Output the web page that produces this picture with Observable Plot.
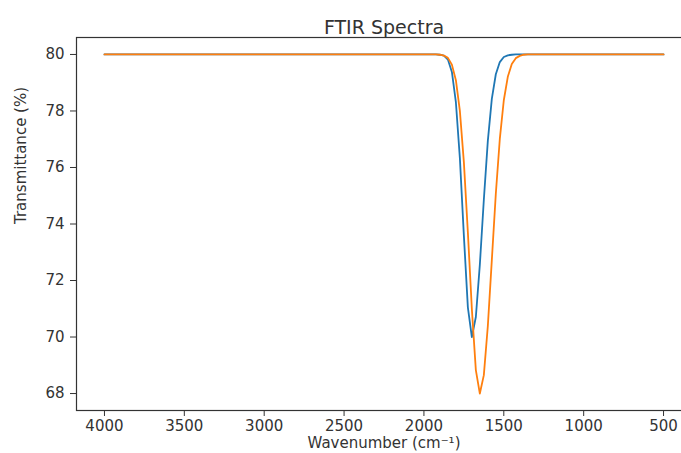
<!DOCTYPE html>
<html>
<head>
<meta charset="utf-8">
<script src="https://cdn.jsdelivr.net/npm/d3@7"></script>
<script src="https://cdn.jsdelivr.net/npm/@observablehq/plot@0.6"></script>
<style>
  html, body { margin: 0; padding: 0; background: #fff; overflow: hidden; }
  #chart { width: 681px; height: 453px; overflow: hidden; }
</style>
</head>
<body>
<div id="chart"></div>
<script>
// Wavenumber sample points (cm^-1)
const wavenumbers = [4000, 1925, 1900, 1875, 1850, 1825, 1800, 1775, 1750, 1725, 1700, 1675, 1650, 1625, 1600, 1575, 1550, 1525, 1500, 1475, 1450, 1425, 1400, 1375, 1350, 500];
// Transmittance (%) for the two spectra
const seriesA = [80, 80.00, 79.99, 79.96, 79.82, 79.38, 78.31, 76.33, 73.59, 71.05, 70.00, 70.71, 72.56, 74.86, 76.94, 78.43, 79.30, 79.73, 79.91, 79.97, 79.99, 80, 80, 80, 80, 80];
const seriesB = [80, 80.00, 79.99, 79.96, 79.88, 79.64, 79.09, 78.00, 76.19, 73.71, 70.99, 68.83, 68.00, 68.65, 70.39, 72.72, 75.07, 77.01, 78.38, 79.21, 79.66, 79.87, 79.95, 79.99, 80, 80];
const seriesNames = ["Spectrum 1", "Spectrum 2"];
const xTicks = [4000, 3500, 3000, 2500, 2000, 1500, 1000, 500];
const yTicks = [68, 70, 72, 74, 76, 78, 80];
const titleText = "FTIR Spectra";
const xLabel = "Wavenumber (cm\u207B\u00B9)";
const yLabel = "Transmittance (%)";

const rows = [
  ...wavenumbers.map((w, i) => ({w, t: seriesA[i], s: seriesNames[0]})),
  ...wavenumbers.map((w, i) => ({w, t: seriesB[i], s: seriesNames[1]}))
];

const chart = Plot.plot({
  width: 681,
  height: 453,
  marginLeft: 76,
  marginRight: -10,
  marginTop: 37,
  marginBottom: 43,
  style: {fontFamily: "'DejaVu Sans', sans-serif", fontSize: "15px", color: "#333", background: "#fff"},
  x: {domain: [4175, 325]},
  y: {domain: [67.4, 80.6]},
  color: {domain: seriesNames, range: ["#1f77b4", "#ff7f0e"]},
  marks: [
    Plot.frame({stroke: "#333", strokeWidth: 1.2}),
    Plot.axisX(xTicks, {tickSize: 6, tickPadding: 4, fontSize: 15, label: null, tickFormat: d => String(d), stroke: "#333"}),
    Plot.axisY(yTicks, {tickSize: 6, tickPadding: 6, fontSize: 15, label: null, tickFormat: d => String(d), stroke: "#333"}),
    Plot.line(rows, {x: "w", y: "t", z: "s", stroke: "s", strokeWidth: 1.8, curve: "linear"}),
    Plot.text([titleText], {frameAnchor: "top", dy: -17.5, fontSize: 19, fill: "#333"}),
    Plot.text([xLabel], {frameAnchor: "bottom", dy: 37, fontSize: 15, fill: "#333"}),
    Plot.text([yLabel], {frameAnchor: "left", dx: -55, rotate: -90, fontSize: 15, fill: "#333"})
  ]
});
document.getElementById("chart").appendChild(chart);
</script>
</body>
</html>
